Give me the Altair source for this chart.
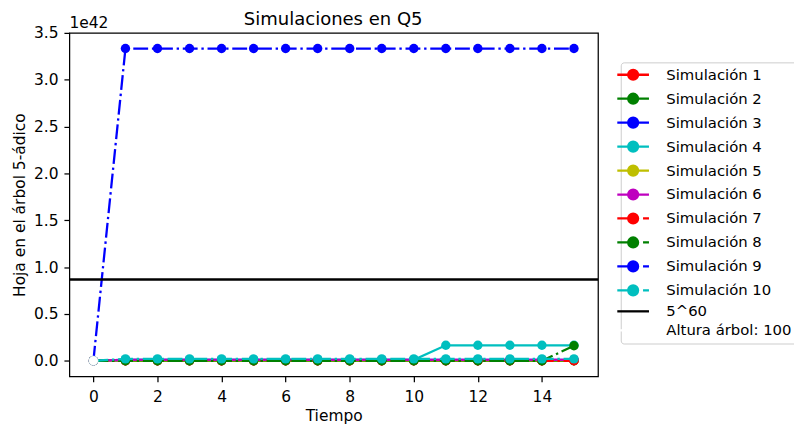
import altair as alt
import pandas as pd

# ---- data (values in units of 1e42) ----
tiempo = list(range(16))

sim1 = [0.0] * 16
sim2 = [0.0] * 16
sim3 = [0.0, 0.01, 0.01, 0.01, 0.01, 0.01, 0.01, 0.01, 0.01, 0.01, 0.01, 0.01, 0.01, 0.01, 0.01, 0.01]
sim4 = [0.0, 0.01, 0.01, 0.01, 0.01, 0.01, 0.01, 0.01, 0.01, 0.01, 0.01, 0.165, 0.165, 0.165, 0.165, 0.165]
sim5 = [0.0, 0.005, 0.005, 0.005, 0.005, 0.005, 0.005, 0.005, 0.005, 0.005, 0.005, 0.005, 0.005, 0.005, 0.005, 0.005]
sim6 = [0.0, 0.01, 0.01, 0.01, 0.01, 0.01, 0.01, 0.01, 0.01, 0.01, 0.01, 0.01, 0.01, 0.01, 0.01, 0.01]
sim7 = [0.0] * 16
sim8 = [0.0, 0.0, 0.0, 0.0, 0.0, 0.0, 0.0, 0.0, 0.0, 0.0, 0.0, 0.0, 0.0, 0.0, 0.0, 0.16]
sim9 = [0.0, 3.333, 3.333, 3.333, 3.333, 3.333, 3.333, 3.333, 3.333, 3.333, 3.333, 3.333, 3.333, 3.333, 3.333, 3.333]
sim10 = [0.0, 0.02, 0.02, 0.02, 0.02, 0.02, 0.02, 0.02, 0.02, 0.02, 0.02, 0.02, 0.02, 0.02, 0.02, 0.02]

simulaciones = [sim1, sim2, sim3, sim4, sim5, sim6, sim7, sim8, sim9, sim10]
nombres = [f"Simulación {i}" for i in range(1, 11)]
colores = ["#ff0000", "#008000", "#0000ff", "#00bfbf", "#bfbf00", "#bf00bf",
           "#ff0000", "#008000", "#0000ff", "#00bfbf"]
estilo_discontinuo = [False] * 6 + [True] * 4

umbral = [5 ** 60 / 1e42]
umbral_nombre = "5^60"
altura_nombre = "Altura árbol: 100"

leyenda_nombres = nombres + [umbral_nombre, altura_nombre]
leyenda_colores = colores + ["#000000", "#ffffff"]

titulo = "Simulaciones en Q5"
exponente = "1e42"

# legend handle shapes (line + marker, matplotlib-like)
circ = "M-1,0A1,1 0 1,0 1,0A1,1 0 1,0 -1,0Z"
solid_path = "M-3.2,0L3.2,0" + circ
dashdot_path = "M-3.2,0L-1,0M2,0L3.2,0" + circ
line_path = "M-3.2,0L3.2,0"
leyenda_formas = [solid_path] * 6 + [dashdot_path] * 4 + [line_path, line_path]

FONT = "DejaVu Sans"
FS = 15.6
LFS = 15.0
DASHDOT = [15, 3.8, 2.4, 3.8]
LW = 2.3
MS = 90
W, H = 534, 347

xs = alt.Scale(domain=[-0.75, 15.75], nice=False, zero=False)
ys = alt.Scale(domain=[-0.1667, 3.5], nice=False, zero=False)
xaxis = alt.Axis(values=list(range(0, 16, 2)), format="d", title="Tiempo")
yaxis = alt.Axis(values=[0, 0.5, 1.0, 1.5, 2.0, 2.5, 3.0, 3.5], format=".1f",
                 title="Hoja en el árbol 5-ádico")

X = alt.X("t:Q", scale=xs, axis=xaxis)
Y = alt.Y("v:Q", scale=ys, axis=yaxis)

layers = []
for nombre, vals, col, dd in zip(nombres, simulaciones, colores, estilo_discontinuo):
    df = pd.DataFrame({"t": tiempo, "v": vals})
    if dd:
        line = alt.Chart(df).mark_line(color=col, strokeWidth=LW, strokeDash=DASHDOT)
    else:
        line = alt.Chart(df).mark_line(color=col, strokeWidth=LW)
    layers.append(line.encode(x=X, y=Y))
    layers.append(alt.Chart(df).mark_point(filled=True, color=col, size=MS, opacity=1)
                  .encode(x=X, y=Y))

# threshold line 5^60
layers.append(alt.Chart(pd.DataFrame({"v": umbral})).mark_rule(color="black", strokeWidth=LW)
              .encode(y=alt.Y("v:Q", scale=ys, axis=yaxis)))

# "Altura árbol" entry, drawn in white at origin
df_alt = pd.DataFrame({"t": [0], "v": [0.0]})
layers.append(alt.Chart(df_alt).mark_point(filled=True, color="white", size=MS, opacity=1,
                                           stroke="#e6e6e6", strokeWidth=0.6)
              .encode(x=X, y=Y))

# legend carrier layer (invisible marks)
leg = alt.Legend(title=None, orient="none", legendX=557, legendY=29.8,
                 symbolSize=100, symbolStrokeWidth=LW, symbolOpacity=1,
                 labelFont=FONT, labelFontSize=LFS, labelColor="black",
                 symbolOffset=0, labelOffset=26, rowPadding=3.2, padding=5,
                 strokeColor="#cccccc", fillColor="white", cornerRadius=3,
                 labelLimit=300)
df_leg = pd.DataFrame({"serie": leyenda_nombres, "t": [0] * 12, "v": [0.0] * 12})
layers.append(
    alt.Chart(df_leg).mark_point(filled=True, opacity=0).encode(
        x=X, y=Y,
        fill=alt.Fill("serie:N", scale=alt.Scale(domain=leyenda_nombres, range=leyenda_colores), legend=leg),
        stroke=alt.Stroke("serie:N", scale=alt.Scale(domain=leyenda_nombres, range=leyenda_colores), legend=leg),
        shape=alt.Shape("serie:N", scale=alt.Scale(domain=leyenda_nombres, range=leyenda_formas), legend=leg),
    )
)

# axis offset text "1e42"
layers.append(alt.Chart(pd.DataFrame({"txt": [exponente]})).mark_text(
    align="left", baseline="alphabetic", font=FONT, fontSize=FS, color="black")
    .encode(text="txt:N", x=alt.value(0), y=alt.value(-5)))

# chart title, centred over the plot area
layers.append(alt.Chart(pd.DataFrame({"txt": [titulo]})).mark_text(
    align="center", baseline="alphabetic", font=FONT, fontSize=18.2, color="black")
    .encode(text="txt:N", x=alt.value(W / 2 - 0.5), y=alt.value(-7.5)))

chart = alt.layer(*layers).properties(
    width=W, height=H,
    padding={"left": 62, "top": 23, "right": 198, "bottom": 48},
    autosize=alt.AutoSizeParams(type="none"),
).configure_view(stroke="black", strokeWidth=1.25).configure_axis(
    grid=False, domain=False, tickColor="black", tickSize=5.5, tickWidth=1.25,
    labelFont=FONT, labelFontSize=FS, labelColor="black",
    titleFont=FONT, titleFontSize=FS, titleFontWeight="normal", titleColor="black",
).configure_axisX(labelPadding=8, titlePadding=3).configure_axisY(labelPadding=6, titlePadding=6)

chart.save("out.html", embed_options={"renderer": "svg", "actions": False})
